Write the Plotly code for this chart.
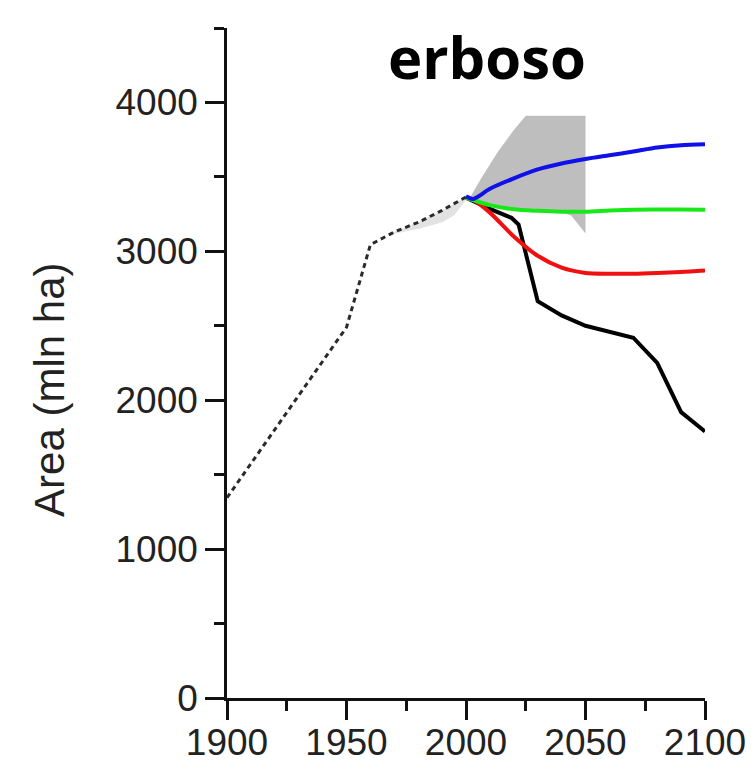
import plotly.graph_objects as go

# Historical (dashed) series
hist_years = [1900, 1950, 1960, 1970, 1980, 1990, 2000]
hist_vals = [1345, 2490, 3045, 3130, 3195, 3275, 3365]

# light grey band under historical line
band_years = [1968, 1975, 1980, 1990, 1995, 2000]
band_high = [3120, 3165, 3195, 3275, 3320, 3365]
band_low = [3112, 3135, 3150, 3195, 3240, 3345]

# grey uncertainty envelope
shade_up_years = [2002, 2006, 2013, 2020, 2025, 2050]
shade_up_vals = [3370, 3480, 3660, 3815, 3910, 3910]
shade_lo_years = [2002, 2010, 2020, 2030, 2040, 2044, 2050]
shade_lo_vals = [3360, 3300, 3275, 3265, 3260, 3240, 3120]

# scenarios
years_s = [2000, 2003, 2010, 2020, 2030, 2040, 2050, 2060, 2070, 2080, 2090, 2100]
blue_vals = [3370, 3352, 3420, 3490, 3550, 3590, 3620, 3645, 3670, 3697, 3713, 3720]
green_vals = [3360, 3345, 3310, 3282, 3272, 3266, 3266, 3274, 3280, 3281, 3281, 3280]
red_vals = [3360, 3345, 3260, 3100, 2970, 2890, 2855, 2850, 2850, 2855, 2862, 2872]

black_years = [2000, 2010, 2019, 2022, 2030, 2040, 2050, 2060, 2070, 2080, 2090, 2100]
black_vals = [3360, 3285, 3225, 3180, 2665, 2570, 2500, 2460, 2420, 2250, 1920, 1790]

fig = go.Figure()

fig.add_trace(go.Scatter(
    x=shade_up_years + shade_lo_years[::-1],
    y=shade_up_vals + shade_lo_vals[::-1],
    fill="toself", fillcolor="#bebebe", line=dict(width=0), mode="lines",
    hoverinfo="skip", showlegend=False))

fig.add_trace(go.Scatter(
    x=band_years + band_years[::-1],
    y=band_high + band_low[::-1],
    fill="toself", fillcolor="#e2e2e2", line=dict(width=0), mode="lines",
    hoverinfo="skip", showlegend=False))

fig.add_trace(go.Scatter(x=hist_years, y=hist_vals, mode="lines",
                         line=dict(color="#2a2a2a", width=3, dash="5px,4px"),
                         showlegend=False))

fig.add_trace(go.Scatter(x=black_years, y=black_vals, mode="lines",
                         line=dict(color="#000000", width=4), showlegend=False))
fig.add_trace(go.Scatter(x=years_s, y=red_vals, mode="lines",
                         line=dict(color="#f01010", width=4, shape="spline", smoothing=0.8),
                         showlegend=False))
fig.add_trace(go.Scatter(x=years_s, y=green_vals, mode="lines",
                         line=dict(color="#18e818", width=4, shape="spline", smoothing=0.8),
                         showlegend=False))
fig.add_trace(go.Scatter(x=years_s, y=blue_vals, mode="lines",
                         line=dict(color="#1010e8", width=4, shape="spline", smoothing=0.8),
                         showlegend=False))

axis_font = dict(family="Liberation Sans, Arial, sans-serif", size=37, color="#222222")

fig.update_xaxes(
    range=[1900, 2100], tickmode="linear", tick0=1900, dtick=50,
    showline=True, linecolor="#111111", linewidth=2.5,
    ticks="outside", ticklen=19, tickwidth=2.5, tickcolor="#111111",
    minor=dict(ticks="outside", dtick=25, tick0=1900, ticklen=10, tickwidth=2.5, tickcolor="#111111", showgrid=False),
    showgrid=False, zeroline=False, tickfont=axis_font, ticklabelstandoff=-9,
)
fig.update_yaxes(
    range=[0, 4500], tickmode="linear", tick0=0, dtick=1000,
    showline=True, linecolor="#111111", linewidth=2.5,
    ticks="outside", ticklen=19, tickwidth=2.5, tickcolor="#111111",
    minor=dict(ticks="outside", dtick=500, tick0=0, ticklen=10, tickwidth=2.5, tickcolor="#111111", showgrid=False),
    showgrid=False, zeroline=False, tickfont=axis_font,
)

fig.add_annotation(text="Area (mln ha)", xref="paper", yref="paper",
                   x=-0.37, y=0.46, xanchor="center", yanchor="middle", textangle=-90,
                   showarrow=False,
                   font=dict(family="Liberation Sans, Arial, sans-serif", size=42, color="#222222"))

fig.add_annotation(text="<b>erboso</b>", xref="paper", yref="paper",
                   x=0.544, y=0.957, xanchor="center", yanchor="middle",
                   showarrow=False, font=dict(family="Open Sans, sans-serif", size=58, color="#000000"))

fig.update_layout(
    width=753, height=763,
    margin=dict(l=227, r=48, t=28, b=65, autoexpand=False),
    paper_bgcolor="white", plot_bgcolor="white",
)

fig.write_html("out.html")
